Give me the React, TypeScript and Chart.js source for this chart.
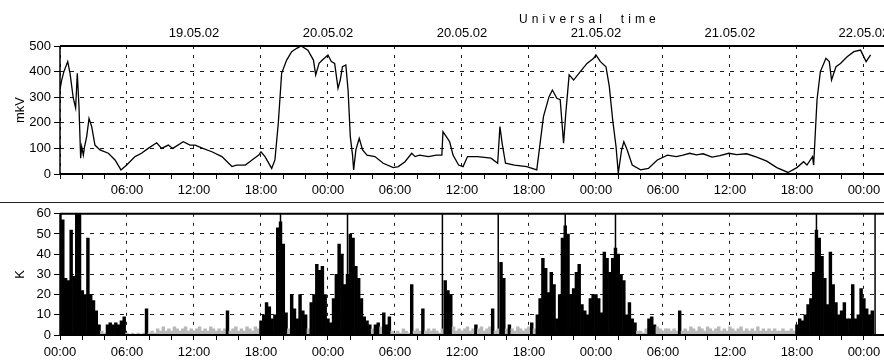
import React, { useEffect, useRef } from 'react';
import { Chart, registerables } from 'chart.js';

Chart.register(...registerables);

// ---- tick labels ----
const timeLabels = ['00:00', '06:00', '12:00', '18:00'];
const timeTickHours = [0, 2, 4, 6, 8, 10, 12, 14, 16, 18, 20, 22, 24, 26, 28, 30, 32, 34, 36, 38, 40, 42, 44, 46, 48, 50, 52, 54, 56, 58, 60, 62, 64, 66, 68, 70, 72];
const dateTickHours = [12, 24, 36, 48, 60, 72];
const dateLabels = ['19.05.02', '20.05.02', '20.05.02', '21.05.02', '21.05.02', '22.05.02'];
const mkvTicks = [0, 100, 200, 300, 400, 500];
const kTicks = [0, 10, 20, 30, 40, 50, 60];
const hourMax = 73.8;

// ---- upper panel: mkV (hours since 19.05.02 00:00 UT) ----
const mkvHours = [
  0.0, 0.15, 0.35, 0.69, 0.9, 1.19, 1.4, 1.55, 1.7, 1.85, 1.94, 2.09, 2.2, 2.39, 2.6, 2.84, 3.13, 3.58,
  4.33, 4.93, 5.46, 5.97, 6.72, 7.3, 7.9, 8.66, 9.1, 9.7, 10.1, 11.04, 11.64, 12.1, 12.8, 13.6, 14.5,
  15.4, 15.8, 16.6, 17.2, 17.8, 18.0, 18.36, 18.96, 19.25, 19.55, 19.85, 20.3, 20.75, 21.2, 21.6, 22.2,
  22.7, 22.9, 23.2, 23.5, 24.0, 24.3, 24.6, 24.9, 25.1, 25.3, 25.6, 25.8, 26.0, 26.2, 26.3, 26.5, 26.8,
  27.1, 27.5, 28.2, 28.95, 29.85, 30.3, 30.9, 31.5, 31.8, 32.2, 33.0, 33.7, 34.2, 34.3, 34.6, 34.9, 35.2,
  35.7, 36.1, 36.5, 37.4, 38.6, 39.2, 39.4, 39.6, 39.9, 40.7, 41.8, 42.7, 43.3, 43.8, 44.1, 44.5, 44.8,
  45.1, 45.3, 45.6, 46.0, 46.6, 47.2, 47.8, 48.0, 48.4, 48.9, 49.2, 49.5, 49.8, 50.0, 50.3, 50.5, 50.8,
  51.25, 52.0, 52.7, 53.5, 54.4, 55.2, 55.8, 56.4, 57.0, 57.6, 58.4, 59.1, 59.9, 60.6, 61.5, 62.4, 63.3,
  64.2, 65.2, 66.0, 66.6, 66.9, 67.4, 67.5, 67.8, 68.1, 68.6, 68.9, 69.1, 69.5, 69.9, 70.5, 71.1, 71.7,
  72.2, 72.6,
];
const mkvValues = [
  330, 367, 400, 439, 393, 296, 258, 393, 263, 62, 107, 74, 107, 146, 217, 185, 113, 94,
  81, 55, 16, 35, 68, 81, 100, 122, 100, 113, 100, 126, 113, 113, 100, 87, 68,
  29, 35, 35, 55, 74, 87, 68, 22, 55, 198, 393, 445, 478, 491, 500, 484,
  445, 387, 432, 445, 465, 439, 432, 335, 367, 419, 426, 328, 146, 74, 16, 94, 139,
  94, 74, 68, 42, 25, 29, 48, 81, 68, 74, 68, 74, 74, 165, 146, 126, 74,
  35, 29, 68, 68, 62, 42, 185, 120, 42, 35, 29, 16, 224, 302, 328, 296, 290,
  120, 237, 387, 367, 400, 432, 452, 465, 439, 419, 341, 211, 107, 4, 94, 126, 94,
  35, 16, 22, 55, 74, 68, 74, 81, 75, 79, 66, 72, 81, 76, 79, 66, 50,
  25, 6, 25, 48, 35, 68, 35, 289, 400, 452, 439, 367, 419, 432, 458, 478, 484,
  439, 465,
];

// ---- lower panel: K, one value per quarter hour ----
const kStep = 0.25;
const kDay19 = [
  60, 57, 28, 27, 52, 29, 60, 60, 22, 20, 48, 20, 17, 12, 5, 2, 1, 5, 6, 5, 6, 5, 7, 9,
  1, 0.5, 1, 0.5, 1, 0.5, 1, 13, 1, 2, 1, 3, 2, 4, 2, 3, 2, 4, 3, 2, 3, 4, 2, 3,
  2, 3, 4, 2, 3, 2, 4, 3, 2, 3, 2, 3, 12, 2, 3, 4, 2, 3, 2, 4, 3, 2, 4, 3,
  7, 10, 16, 14, 8, 10, 53, 56, 45, 11, 3, 20, 13, 8, 20, 12, 10, 3, 16, 20, 35, 32, 34, 20,
];
const kDay20 = [
  8, 6, 18, 30, 45, 40, 25, 30, 50, 48, 34, 28, 18, 9, 7, 5, 3, 5, 6, 4, 11, 5, 9, 2,
  1, 2, 1, 3, 2, 1, 25, 2, 3, 2, 13, 2, 3, 2, 3, 2, 1, 3, 27, 22, 20, 4, 2, 3,
  2, 3, 4, 2, 3, 5, 3, 4, 2, 3, 4, 13, 2, 3, 36, 28, 3, 5, 3, 2, 4, 3, 2, 3,
  4, 6, 3, 10, 18, 38, 33, 21, 31, 25, 8, 20, 48, 54, 50, 20, 23, 31, 35, 15, 12, 10, 18, 20,
];
const kDay21 = [
  20, 18, 11, 41, 38, 31, 38, 43, 40, 30, 27, 10, 16, 8, 6, 2, 2, 1, 3, 8, 9, 5, 4, 3,
  2, 3, 3, 2, 3, 2, 12, 2, 3, 2, 4, 3, 2, 4, 3, 2, 4, 3, 2, 3, 4, 2, 3, 2,
  4, 3, 2, 3, 4, 2, 3, 2, 3, 2, 4, 2, 3, 2, 3, 2, 3, 2, 2, 3, 2, 2, 3, 2,
  5, 8, 7, 10, 15, 18, 31, 52, 48, 39, 28, 15, 41, 25, 16, 10, 12, 16, 8, 8, 25, 8, 10, 23,
];
const kDay22 = [18, 13, 10, 12];
const kSpikeHours = [19.75, 25.75, 34.25, 39.25, 45.25, 49.75, 67.75, 73.0];
const kSpikeValue = 60;

const FONT = { family: "'Liberation Sans', Arial, sans-serif", size: 13 };

const framePlugin = {
  id: 'frame',
  afterDraw(chart: any) {
    const { ctx, chartArea } = chart;
    const { left, right, top, bottom } = chartArea;
    ctx.save();
    ctx.strokeStyle = '#000';
    ctx.lineWidth = 2;
    ctx.beginPath();
    ctx.moveTo(left, top);
    ctx.lineTo(right, top);
    ctx.moveTo(left, bottom);
    ctx.lineTo(right, bottom);
    ctx.stroke();
    ctx.lineWidth = 1.5;
    ctx.beginPath();
    ctx.moveTo(left, top);
    ctx.lineTo(left, bottom);
    ctx.stroke();
    ctx.restore();
  },
};

function timeAxis(showZero: boolean, height: number, padding: number) {
  return {
    type: 'linear',
    position: 'bottom',
    min: 0,
    max: hourMax,
    offset: false,
    afterBuildTicks: (axis: any) => {
      axis.ticks = timeTickHours.map((v) => ({ value: v }));
    },
    afterFit: (axis: any) => {
      axis.height = height;
      axis.paddingLeft = 0;
      axis.paddingRight = 0;
    },
    grid: {
      offset: false,
      color: (c: any) => (c.tick && c.tick.value % 6 === 0 ? '#1a1a1a' : 'rgba(0,0,0,0)'),
      tickColor: '#000',
      tickLength: 5,
      lineWidth: 1,
      tickBorderDash: [],
    },
    border: { display: false, dash: [3, 6] },
    ticks: {
      autoSkip: false,
      maxRotation: 0,
      minRotation: 0,
      padding,
      font: FONT,
      color: '#000',
      callback: (v: number) =>
        v % 6 === 0 && (showZero || v !== 0) ? timeLabels[(v / 6) % 4] : '',
    },
  };
}

function valueAxis(ticks: number[], max: number, title: string) {
  return {
    type: 'linear',
    min: 0,
    max,
    afterBuildTicks: (axis: any) => {
      axis.ticks = ticks.map((v) => ({ value: v }));
    },
    afterFit: (axis: any) => {
      axis.width = 60;
    },
    grid: { color: '#1a1a1a', tickColor: '#000', tickLength: 6, lineWidth: 1, tickBorderDash: [] },
    border: { display: false, dash: [4, 6] },
    ticks: { padding: 3, font: FONT, color: '#000' },
    title: { display: true, text: title, font: FONT, color: '#000', padding: { top: 13, bottom: 0 } },
  };
}

export default function App() {
  const topRef = useRef<HTMLCanvasElement | null>(null);
  const botRef = useRef<HTMLCanvasElement | null>(null);

  useEffect(() => {
    const mkvPoints = mkvHours.map((h, i) => ({ x: h, y: mkvValues[i] }));
    const kAll = [...kDay19, ...kDay20, ...kDay21, ...kDay22];
    const kPoints = kAll.map((v, i) => ({ x: i * kStep, y: v }));
    const spikePoints = kSpikeHours.map((h) => ({ x: h, y: kSpikeValue }));

    const top = new Chart(topRef.current as HTMLCanvasElement, {
      type: 'line',
      data: {
        datasets: [
          {
            data: mkvPoints,
            borderColor: '#000',
            borderWidth: 1.3,
            pointRadius: 0,
            tension: 0,
            fill: false,
          } as any,
        ],
      },
      options: {
        responsive: false,
        animation: false,
        devicePixelRatio: 1,
        layout: { padding: 0 },
        plugins: { legend: { display: false }, tooltip: { enabled: false } },
        scales: {
          x: timeAxis(false, 29, 4) as any,
          x2: {
            type: 'linear',
            position: 'top',
            min: 0,
            max: hourMax,
            afterBuildTicks: (axis: any) => {
              axis.ticks = dateTickHours.map((v) => ({ value: v }));
            },
            afterFit: (axis: any) => {
              axis.height = 46;
              axis.paddingLeft = 0;
              axis.paddingRight = 0;
            },
            grid: { display: false, drawTicks: false, drawOnChartArea: false },
            border: { display: false },
            ticks: {
              autoSkip: false,
              maxRotation: 0,
              minRotation: 0,
              padding: 5,
              font: FONT,
              color: '#000',
              callback: (_v: any, i: number) => dateLabels[i],
            },
          } as any,
          y: valueAxis(mkvTicks, 500, 'mkV') as any,
        },
      },
      plugins: [framePlugin],
    });

    const bot = new Chart(botRef.current as HTMLCanvasElement, {
      type: 'bar',
      data: {
        datasets: [
          {
            data: kPoints,
            backgroundColor: (c: any) => ((c.parsed && c.parsed.y) <= 4 ? '#b8b8b8' : '#000'),
            barPercentage: 1,
            categoryPercentage: 1,
            borderWidth: 0,
          } as any,
          {
            data: spikePoints,
            backgroundColor: '#000',
            grouped: false,
            maxBarThickness: 1.5,
            borderWidth: 0,
          } as any,
        ],
      },
      options: {
        responsive: false,
        animation: false,
        devicePixelRatio: 1,
        layout: { padding: { top: 10, left: 0, right: 0, bottom: 0 } },
        plugins: { legend: { display: false }, tooltip: { enabled: false } },
        scales: {
          x: timeAxis(true, 25, 5) as any,
          y: valueAxis(kTicks, 60, 'K') as any,
        },
      },
      plugins: [framePlugin],
    });

    return () => {
      top.destroy();
      bot.destroy();
    };
  }, []);

  return (
    <div style={{ position: 'absolute', left: 0, top: 0, width: 884, height: 360, background: '#fff', overflow: 'hidden' }}>
      <canvas ref={topRef} width={884} height={203} style={{ position: 'absolute', left: 0, top: 0, width: 884, height: 203 }} />
      <div
        style={{
          position: 'absolute',
          left: 519,
          top: 13,
          fontFamily: "'Liberation Sans', Arial, sans-serif",
          fontSize: 12,
          lineHeight: '12px',
          letterSpacing: '4.1px',
          whiteSpace: 'pre',
          color: '#000',
        }}
      >
        {'Universal  time'}
      </div>
      <div style={{ position: 'absolute', left: 0, top: 202, width: 884, height: 0, borderTop: '1px solid #222' }} />
      <canvas ref={botRef} width={884} height={157} style={{ position: 'absolute', left: 0, top: 203, width: 884, height: 157 }} />
    </div>
  );
}
